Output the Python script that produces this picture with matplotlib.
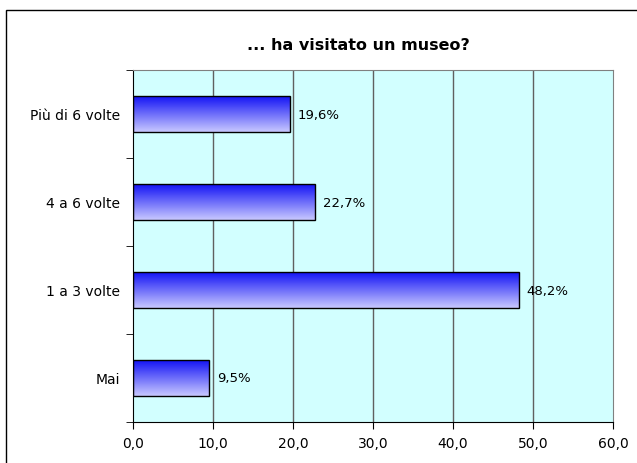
import matplotlib
matplotlib.use("Agg")
import matplotlib.pyplot as plt
import numpy as np
from matplotlib.patches import Rectangle

# data
categories = ["Mai", "1 a 3 volte", "4 a 6 volte", "Più di 6 volte"]
values = [9.5, 48.2, 22.7, 19.6]
value_labels = ["9,5%", "48,2%", "22,7%", "19,6%"]
title = "... ha visitato un museo?"
xticks = [0, 10, 20, 30, 40, 50, 60]

plt.rcParams['font.family'] = ['DejaVu Sans']

fig = plt.figure(figsize=(6.37, 4.64), dpi=100)
fig.patch.set_facecolor("white")
# outer chart frame
fig.patches.append(Rectangle((6 / 637, -0.02), 1.0, 1 - 11 / 464 + 0.02,
                             transform=fig.transFigure, fill=False,
                             edgecolor="black", linewidth=1.0))

ax = fig.add_axes([133 / 637, 1 - 423 / 464, 480 / 637, 352 / 464])
ax.set_facecolor("#D2FFFF")

for x in xticks[1:-1]:
    ax.axvline(x, color="#606060", linewidth=1.0, zorder=1)

# gradient bars, blue on top fading to lavender
grad = np.linspace(0, 1, 100).reshape(-1, 1)
cmap = matplotlib.colors.LinearSegmentedColormap.from_list("g", ["#1414F5", "#C8C8FF"])
bar_h = 0.4
for i, v in enumerate(values):
    ax.imshow(grad, extent=(0, v, i - bar_h / 2, i + bar_h / 2), cmap=cmap,
              aspect="auto", zorder=2, interpolation="bicubic")
    ax.add_patch(Rectangle((0, i - bar_h / 2), v, bar_h, fill=False,
                           edgecolor="black", linewidth=1.0, zorder=3))
    ax.text(v + 1.0, i, value_labels[i], va="center", ha="left", fontsize=9.5)

ax.set_xlim(0, 60)
ax.set_ylim(-0.5, len(categories) - 0.5)
ax.set_xticks(xticks)
ax.xaxis.set_major_formatter(matplotlib.ticker.FuncFormatter(lambda t, p: ("%.1f" % t).replace(".", ",")))
ax.set_yticks(range(len(categories)))
ax.set_yticklabels(categories)
ax.set_yticks(np.arange(-0.5, len(categories), 1.0), minor=True)
ax.tick_params(axis="y", which="major", length=0, pad=9, labelsize=10)
ax.tick_params(axis="y", which="minor", length=5, direction="out")
ax.tick_params(axis="x", length=5, direction="out", pad=5, labelsize=10)

for side in ["top", "right"]:
    ax.spines[side].set_color("#808080")
for side in ["left", "bottom"]:
    ax.spines[side].set_color("black")

fig.text(358 / 637, 1 - 46 / 464, title, ha="center", va="center",
         fontsize=11.5, fontweight="bold")

fig.savefig("out.png", dpi=100)
